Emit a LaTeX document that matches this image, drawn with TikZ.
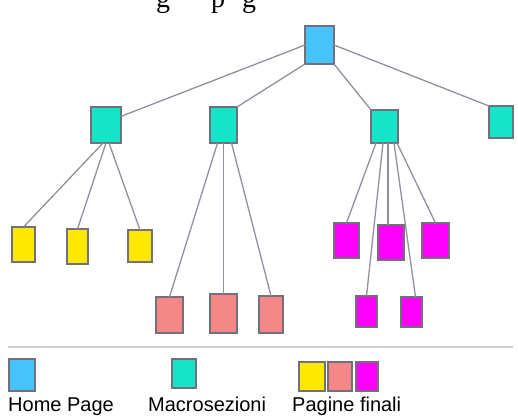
\documentclass[tikz,border=0pt]{standalone}
\usepackage{fontspec}
\setmainfont{Liberation Serif}
\newfontfamily\legendfont{Liberation Sans}
\usetikzlibrary{calc}

\definecolor{homeblue}{RGB}{70,195,250}
\definecolor{macrocol}{RGB}{20,228,200}
\definecolor{finyellow}{RGB}{255,232,0}
\definecolor{finsalmon}{RGB}{245,135,135}
\definecolor{finmagenta}{RGB}{255,0,255}
\definecolor{boxedge}{RGB}{115,112,125}
\definecolor{linkcol}{RGB}{150,142,160}
\definecolor{rulecol}{RGB}{205,205,210}

\tikzset{
  page/.style={draw=boxedge, line width=1.4pt, inner sep=0pt, outer sep=0pt},
  sz/.style 2 args={minimum width=#1pt, minimum height=#2pt},
  homebox/.style={page, fill=homeblue},
  macrobox/.style={page, fill=macrocol},
  yelbox/.style={page, fill=finyellow},
  salbox/.style={page, fill=finsalmon},
  magbox/.style={page, fill=finmagenta},
  link/.style={draw=linkcol, line width=1.3pt},
  legendtxt/.style={anchor=base west, inner sep=0pt, font=\legendfont\fontsize{20}{20}\selectfont},
  headtxt/.style={anchor=base west, inner sep=0pt, font=\fontsize{28}{28}\selectfont}
}

\begin{document}
\begin{tikzpicture}[x=1pt, y=-1pt]
\useasboundingbox (0,0) rectangle (518,416);

% heading line above the tree (only its lowest part lies on the page)
\node[headtxt] (h1) at (156,7) {g};
\node[headtxt] (h2) at (211,7) {p};
\node[headtxt] (h3) at (242,7) {g};

% home page
\node[homebox, sz={29}{38}] (home) at (319.5,45) {};

% macro sections
\node[macrobox, sz={30}{36}] (m1) at (106,125) {};
\node[macrobox, sz={27}{36}] (m2) at (223.5,125) {};
\node[macrobox, sz={27}{33}] (m3) at (384.5,126.5) {};
\node[macrobox, sz={24}{32}] (m4) at (501,122) {};

% final pages under the first section
\node[yelbox, sz={23}{35}] (y1) at (23.5,244.5) {};
\node[yelbox, sz={21}{35}] (y2) at (77.5,246.5) {};
\node[yelbox, sz={24}{32}] (y3) at (140,246) {};

% final pages under the second section
\node[salbox, sz={27}{36}] (p1) at (169.5,315) {};
\node[salbox, sz={27}{39}] (p2) at (223.5,313.5) {};
\node[salbox, sz={24}{37}] (p3) at (271,314.5) {};

% final pages under the third section
\node[magbox, sz={25}{35}] (n1) at (346.5,240.5) {};
\node[magbox, sz={26}{35}] (n2) at (391,242.5) {};
\node[magbox, sz={27}{35}] (n3) at (435.5,240.5) {};
\node[magbox, sz={21}{31}] (n4) at (366.5,311.5) {};
\node[magbox, sz={21}{30}] (n5) at (411.5,312) {};

% links from the home page
\draw[link] (home.west) -- (m1.30);
\draw[link] (home.south west) -- (m2.north east);
\draw[link] (home.south east) -- (m3.north west);
\draw[link] (home.east) -- (m4.north west);

% links of the first section
\draw[link] ($(m1.south)+(-3,0)$) -- (y1.north);
\draw[link] (m1.south) -- (y2.north);
\draw[link] ($(m1.south)+(3,0)$) -- (y3.north);

% links of the second section
\draw[link] ($(m2.south)+(-6,0)$) -- (p1.north);
\draw[link] (m2.south) -- (p2.north);
\draw[link] ($(m2.south)+(8,0)$) -- (p3.north);

% links of the third section
\draw[link] ($(m3.south)+(-8.5,0)$) -- (n1.north);
\draw[link] ($(m3.south)+(-1.5,0)$) -- (n4.north);
\draw[link] ($(m3.south)+(3.5,0)$) -- ($(n2.north)+(-3,0)$);
\draw[link] ($(m3.south)+(9.5,0)$) -- ($(n5.north)+(4,0)$);
\draw[link] ($(m3.south)+(12.5,0)$) -- (n3.north);

% legend
\coordinate (ruleL) at (8,347);
\coordinate (ruleR) at (513,347);
\draw[rulecol, line width=1.2pt] (ruleL) -- (ruleR);

\node[homebox, sz={26}{32}] (lhome) at (22,375) {};
\node[macrobox, sz={24}{29}] (lmacro) at (184,373.5) {};
\node[yelbox, sz={26}{29}] (lyel) at (312,376.5) {};
\node[salbox, sz={24}{29}] (lsal) at (340,376.5) {};
\node[magbox, sz={22}{29}] (lmag) at (367,376.5) {};

\node[legendtxt] (thome) at (8,411) {Home Page};
\node[legendtxt] (tmacro) at (148,411) {Macrosezioni};
\node[legendtxt] (tfin) at (292,411) {Pagine finali};
\end{tikzpicture}
\end{document}
